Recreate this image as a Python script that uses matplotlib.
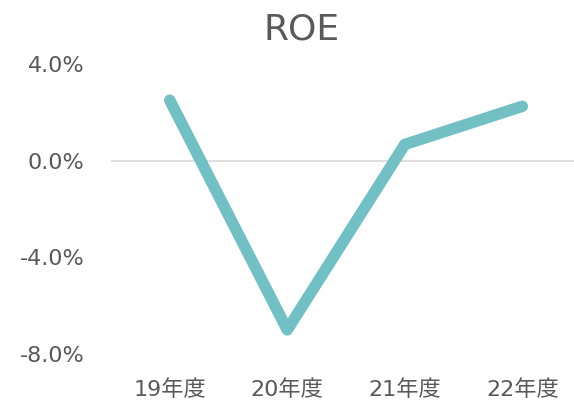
import matplotlib
matplotlib.use("Agg")
import matplotlib.pyplot as plt
from matplotlib.ticker import FuncFormatter

plt.rcParams['font.family'] = ['DejaVu Sans', 'Noto Sans CJK JP']

years = ['19年度', '20年度', '21年度', '22年度']
roe = [2.5, -7.0, 0.67, 2.25]
yticks = [4.0, 0.0, -4.0, -8.0]

fig = plt.figure(figsize=(5.74, 4.04), dpi=100)
ax = fig.add_axes([111 / 574, 1 - 354 / 404, 1 - 111 / 574, (354 - 64) / 404])

ax.axhline(0, color='#d9d9d9', linewidth=1.2, zorder=1)
ax.plot(range(len(years)), roe, color='#72C0C4', linewidth=8.3,
        solid_capstyle='round', solid_joinstyle='round', clip_on=False, zorder=3)

ax.set_xlim(-0.5, 3.44)
ax.set_ylim(-8, 4)
ax.set_yticks(yticks)
ax.yaxis.set_major_formatter(FuncFormatter(lambda v, p: f'{v:.1f}%'))
ax.set_xticks(range(len(years)))
ax.set_xticklabels(years)
ax.tick_params(axis='both', length=0, labelsize=16, labelcolor='#595959')
ax.tick_params(axis='x', pad=18)
ax.tick_params(axis='y', pad=19)
for s in ax.spines.values():
    s.set_visible(False)

fig.text(302 / 574, 1 - 29 / 404, 'ROE', ha='center', va='center',
         fontsize=26, color='#595959')

fig.savefig('out.png', dpi=100)
